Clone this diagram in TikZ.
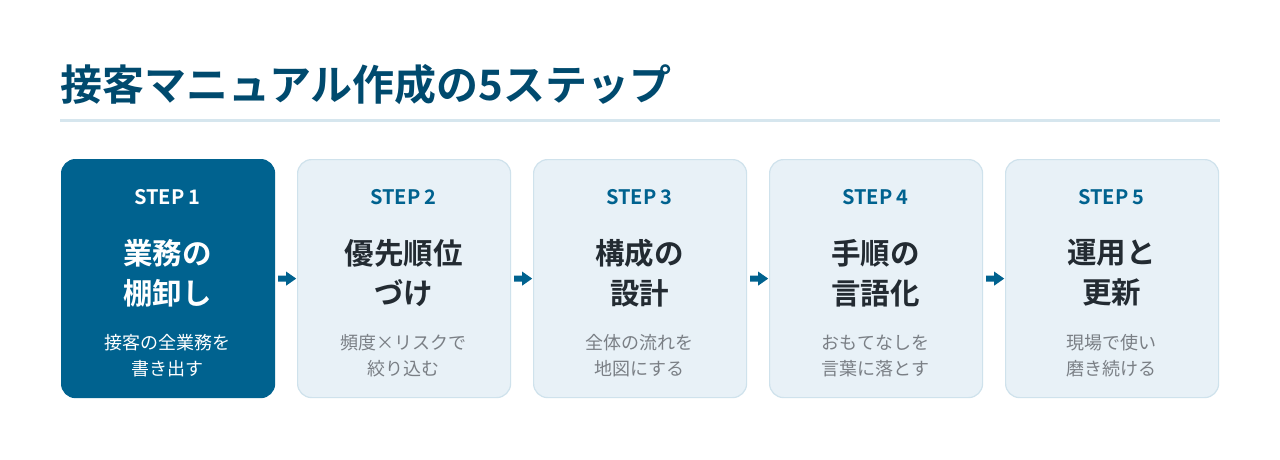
\documentclass[tikz,border=0pt]{standalone}
\usepackage{fontspec}
\setmainfont{Noto Sans CJK JP}
\newfontfamily\jpbold{Noto Sans CJK JP Bold}
\newfontfamily\jpreg{Noto Sans CJK JP}
\begin{document}
\begin{tikzpicture}[x=1pt,y=-1pt,
  box/.style={rounded corners=14pt, draw=boxline, fill=boxfill, line width=1.2pt, minimum width=213pt, minimum height=238pt, anchor=north west, inner sep=0pt},
  activebox/.style={box, draw=activefill, fill=activefill},
  steplbl/.style={font=\jpbold\fontsize{20}{22}\selectfont, text=stepblue, anchor=center},
  maintxt/.style={font=\jpbold\fontsize{29.5}{40}\selectfont, text=darktext, align=center, anchor=center},
  subtxt/.style={font=\jpreg\fontsize{18}{26}\selectfont, text=greytext, align=center, anchor=center},
]
\definecolor{activefill}{HTML}{00628F}
\definecolor{stepblue}{HTML}{00628F}
\definecolor{titleblue}{HTML}{004A6E}
\definecolor{boxfill}{HTML}{E8F1F7}
\definecolor{boxline}{HTML}{CFE2EC}
\definecolor{darktext}{HTML}{232B32}
\definecolor{greytext}{HTML}{7A7F85}
\definecolor{rulecol}{HTML}{D6E6EE}
\useasboundingbox (0,0) rectangle (1280,460);
\fill[white] (0,0) rectangle (1280,460);
\node[anchor=base west, inner sep=0pt, font=\jpbold\fontsize{42}{44}\selectfont, text=titleblue] (title) at (60,100) {接客マニュアル作成の5ステップ};
\draw[rulecol, line width=3pt] (60,120) coordinate (r1) -- (1220,120) coordinate (r2);
% boxes
\node[activebox] (b1) at (61,159) {};
\node[box] (b2) at (297,159) {};
\node[box] (b3) at (533,159) {};
\node[box] (b4) at (769,159) {};
\node[box] (b5) at (1005,159) {};
% labels
\foreach \i/\x in {2/403.5,3/639.5,4/875.5,5/1111.5}{
  \node[steplbl] (s\i) at (\x,197) {STEP \i};
}
\node[steplbl, text=white] (s1) at (167.5,197) {STEP 1};
\node[maintxt, text=white] (m1) at (167.5,273) {業務の\\棚卸し};
\node[maintxt] (m2) at (403.5,273) {優先順位\\づけ};
\node[maintxt] (m3) at (639.5,273) {構成の\\設計};
\node[maintxt] (m4) at (875.5,273) {手順の\\言語化};
\node[maintxt] (m5) at (1111.5,273) {運用と\\更新};
\node[subtxt, text=white] (t1) at (167.5,356) {接客の全業務を\\書き出す};
\node[subtxt] (t2) at (403.5,356) {頻度×リスクで\\絞り込む};
\node[subtxt] (t3) at (639.5,356) {全体の流れを\\地図にする};
\node[subtxt] (t4) at (875.5,356) {おもてなしを\\言葉に落とす};
\node[subtxt] (t5) at (1111.5,356) {現場で使い\\磨き続ける};
% arrows
\foreach \a/\b in {b1/b2,b2/b3,b3/b4,b4/b5}{
  \path (\a.east) ++(3,0) coordinate (p);
  \fill[stepblue] (p) ++(0,-3) -- ++(8,0) -- ++(0,-4) -- ++(10,7) -- ++(-10,7) -- ++(0,-4) -- ++(-8,0) -- cycle;
}
\end{tikzpicture}
\end{document}
